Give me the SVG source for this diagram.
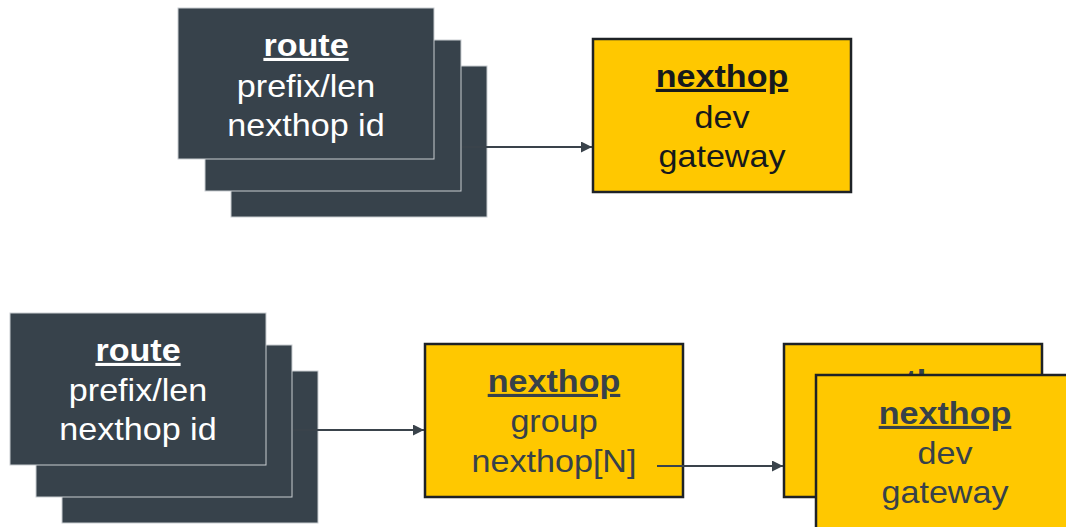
<svg xmlns="http://www.w3.org/2000/svg" width="1066" height="527" viewBox="0 0 1066 527">
<style>
  .route { fill: #37424b; stroke: #c9cdd1; stroke-width: 1; }
  .nh { fill: #ffc800; stroke: #1e2226; stroke-width: 2.5; }
  text { font-family: "Liberation Sans", Arial, sans-serif; font-size: 31px; text-anchor: middle; }
  .w { fill: #ffffff; }
  .k { fill: #16191c; }
  .g { fill: #37414a; }
  .t { font-weight: bold; text-decoration: underline; }
  .conn { stroke: #3a434b; stroke-width: 2; fill: none; marker-end: url(#arr); }
</style>
<defs>
  <marker id="arr" viewBox="0 0 10 10" refX="10" refY="5" markerWidth="11" markerHeight="11" markerUnits="userSpaceOnUse" orient="auto">
    <path d="M0,0 L10,5 L0,10 z" fill="#3a434b"/>
  </marker>
</defs>
<rect width="1066" height="527" fill="#ffffff"/>

<g id="route-top">
  <rect class="route" x="231" y="66" width="256" height="151"/>
  <rect class="route" x="205" y="40" width="256" height="151"/>
  <rect class="route" x="178" y="8" width="256" height="151"/>
  <text class="w t" transform="translate(306 0) scale(1.1 1)" x="0" y="56">route</text>
  <text class="w" transform="translate(306 0) scale(1.1 1)" x="0" y="97">prefix/len</text>
  <text class="w" transform="translate(306 0) scale(1.1 1)" x="0" y="136">nexthop id</text>
</g>

<g id="nexthop-top">
  <rect class="nh" x="593" y="39" width="258" height="153"/>
  <text class="k t" transform="translate(722 0) scale(1.1 1)" x="0" y="87">nexthop</text>
  <text class="k" transform="translate(722 0) scale(1.1 1)" x="0" y="128">dev</text>
  <text class="k" transform="translate(722 0) scale(1.1 1)" x="0" y="167">gateway</text>
</g>

<g id="route-bottom">
  <rect class="route" x="62" y="371" width="256" height="152"/>
  <rect class="route" x="36" y="345" width="256" height="152"/>
  <rect class="route" x="10" y="313" width="256" height="152"/>
  <text class="w t" transform="translate(138 0) scale(1.1 1)" x="0" y="361">route</text>
  <text class="w" transform="translate(138 0) scale(1.1 1)" x="0" y="401">prefix/len</text>
  <text class="w" transform="translate(138 0) scale(1.1 1)" x="0" y="440">nexthop id</text>
</g>

<g id="nexthop-group">
  <rect class="nh" x="425" y="344" width="258" height="153"/>
  <text class="g t" transform="translate(554 0) scale(1.1 1)" x="0" y="392">nexthop</text>
  <text class="g" transform="translate(554 0) scale(1.1 1)" x="0" y="432">group</text>
  <text class="g" transform="translate(554 0) scale(1.1 1)" x="0" y="472">nexthop[N]</text>
</g>

<g id="nexthop-back">
  <rect class="nh" x="784" y="344" width="258" height="153"/>
  <text class="g t" transform="translate(913 0) scale(1.1 1)" x="0" y="392">nexthop</text>
</g>

<g id="nexthop-front">
  <rect class="nh" x="816" y="375" width="258" height="160"/>
  <text class="g t" transform="translate(945 0) scale(1.1 1)" x="0" y="424">nexthop</text>
  <text class="g" transform="translate(945 0) scale(1.1 1)" x="0" y="464">dev</text>
  <text class="g" transform="translate(945 0) scale(1.1 1)" x="0" y="503">gateway</text>
</g>

<g id="connectors">
  <line class="conn" x1="462" y1="147" x2="592" y2="147"/>
  <line class="conn" x1="293" y1="430" x2="424" y2="430"/>
  <line class="conn" x1="657" y1="466" x2="783" y2="466"/>
</g>
</svg>
